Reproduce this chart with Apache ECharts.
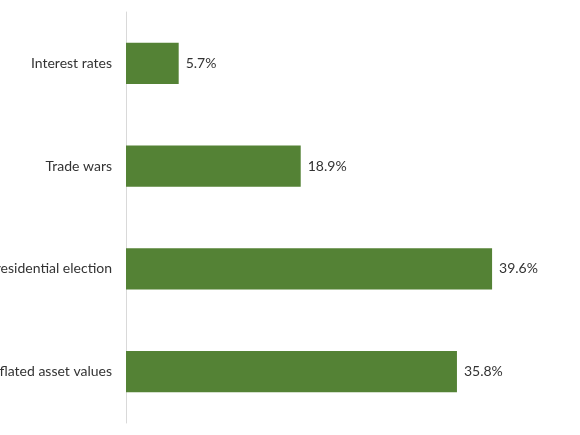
<!DOCTYPE html>
<html>
<head>
<meta charset="utf-8">
<script src="https://cdn.jsdelivr.net/npm/echarts@6/dist/echarts.min.js"></script>
<style>
    html, body { margin: 0; padding: 0; background: #ffffff; }
    #chart { width: 580px; height: 435px; }
</style>
</head>
<body>
<div id="chart"></div>
<script>
    // categories, top to bottom
    var categories = ['Interest rates', 'Trade wars', 'Presidential election', 'Inflated asset values'];
    // share of responses, percent
    var shares = [5.7, 18.9, 39.6, 35.8];

    var chart = echarts.init(document.getElementById('chart'));
    var option = {
        animation: false,
        grid: {
            top: 12,
            bottom: 12,
            left: 126,
            right: 38,
            containLabel: false,
            outerBoundsMode: 'none'
        },
        xAxis: {
            type: 'value',
            min: 0,
            max: 45,
            show: false
        },
        yAxis: {
            type: 'category',
            inverse: true,
            data: categories,
            axisTick: { show: false },
            axisLine: {
                show: true,
                lineStyle: { color: '#d9d9d9', width: 1 }
            },
            axisLabel: {
                margin: 14,
                color: '#333333',
                fontFamily: 'Lato',
                fontSize: 14
            }
        },
        series: [{
            type: 'bar',
            data: shares,
            barWidth: '40%',
            itemStyle: { color: '#548235' },
            label: {
                show: true,
                position: 'right',
                distance: 7,
                color: '#333333',
                fontFamily: 'Lato',
                fontSize: 14,
                formatter: function (p) { return p.value.toFixed(1) + '%'; }
            }
        }]
    };
    chart.setOption(option);
</script>
</body>
</html>
